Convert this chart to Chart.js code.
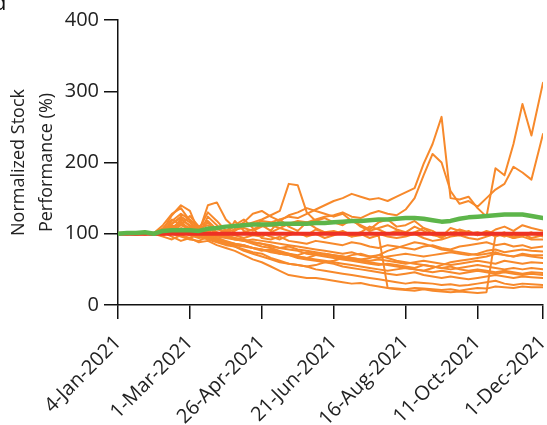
<!DOCTYPE html>
<html>
<head>
<meta charset="utf-8">
<script src="https://cdn.jsdelivr.net/npm/chart.js@4.4.1/dist/chart.umd.min.js"></script>
<style>
  body { margin: 0; background: #fff; }
  #wrap { position: relative; width: 547px; height: 425px; overflow: hidden; }
  #panel { position: absolute; left: -7px; top: -10px; font: 22px "Open Sans", sans-serif; color: #111; line-height: 1; }
</style>
</head>
<body>
<div id="wrap">
  <canvas id="stockChart" width="547" height="425"></canvas>
  <div id="panel">d</div>
</div>
<script>
// days since 4-Jan-2021 for each sample
const sampleDays = [0, 7, 14, 21, 28, 35, 42, 49, 56, 63, 70, 77, 84, 91, 98, 105,
  112, 119, 126, 133, 140, 147, 154, 161, 168, 175, 182, 189, 196, 203, 210, 217,
  224, 231, 238, 245, 252, 259, 266, 273, 280, 287, 294, 301, 308, 315, 322, 331];

const tickDays = [0, 56, 112, 168, 224, 280, 331];
const tickLabels = ['4-Jan-2021', '1-Mar-2021', '26-Apr-2021', '21-Jun-2021', '16-Aug-2021', '11-Oct-2021', '1-Dec-2021'];
const yTicks = [0, 100, 200, 300, 400];

// market index (green)
const indexSeries = [100, 101, 101, 102, 100, 104, 105, 105, 105, 104, 107, 108, 110, 111, 112, 113,
  113, 113, 114, 114, 114, 114, 115, 115, 116, 117, 118, 118, 119, 120, 120, 121,
  122, 122, 121, 119, 117, 118, 121, 123, 124, 125, 126, 127, 127, 127, 125, 122];

// starting level (red)
const baselineDays = [0, 331];
const baselineValues = [100, 100];

// individual stocks (orange)
const s01 = [100, 101, 100, 99, 101, 108, 120, 112, 125, 110, 118, 106, 104, 110, 114, 112,
  118, 116, 120, 124, 122, 128, 134, 140, 146, 150, 156, 152, 148, 150, 146, 152,
  158, 164, 198, 226, 264, 150, 148, 152, 136, 124, 192, 182, 226, 282, 238, 312];
const s02 = [100, 100, 101, 100, 100, 104, 114, 122, 110, 104, 116, 100, 102, 106, 108, 104,
  110, 112, 108, 114, 118, 116, 120, 124, 126, 130, 124, 122, 128, 132, 128, 126,
  134, 150, 182, 212, 200, 160, 142, 146, 138, 150, 162, 170, 194, 186, 176, 240];
const s03 = [100, 100, 99, 100, 101, 112, 128, 136, 118, 96, 102, 92, 98, 104, 112, 116,
  120, 126, 132, 170, 168, 130, 118, 122, 116, 112, 120, 110, 104, 108, 112, 106,
  102, 110, 104, 98, 96, 108, 104, 100, 102, 98, 106, 110, 104, 112, 108, 104];
const s04 = [100, 100, 100, 101, 100, 106, 126, 140, 132, 102, 140, 144, 120, 108, 116, 128,
  132, 124, 118, 126, 130, 136, 132, 128, 124, 128, 118, 112, 106, 116, 120, 110,
  112, 118, 108, 100, 94, 102, 98, 104, 98, 102, 96, 100, 94, 98, 102, 96];
const s05 = [100, 101, 100, 100, 99, 102, 108, 118, 104, 98, 124, 112, 96, 118, 104, 98,
  96, 102, 108, 104, 100, 98, 106, 102, 100, 104, 98, 102, 110, 106, 100, 104,
  98, 102, 108, 104, 96, 100, 106, 102, 98, 104, 100, 96, 102, 98, 100, 98];
const s06 = [100, 100, 101, 100, 100, 102, 110, 104, 108, 98, 104, 96, 100, 98, 94, 98,
  100, 96, 92, 98, 102, 96, 100, 94, 98, 102, 96, 100, 94, 98, 24, 22,
  21, 20, 22, 20, 19, 18, 19, 18, 17, 18, 98, 102, 96, 100, 94, 98];
const s07 = [100, 100, 99, 100, 100, 96, 92, 98, 94, 88, 90, 84, 80, 76, 70, 64,
  60, 54, 48, 42, 40, 38, 38, 36, 34, 32, 30, 31, 28, 26, 24, 23,
  22, 24, 23, 22, 21, 22, 20, 22, 24, 23, 26, 25, 24, 26, 25, 25];
const s08 = [100, 101, 100, 100, 99, 104, 112, 106, 102, 96, 92, 88, 84, 82, 78, 74,
  72, 66, 62, 58, 56, 54, 50, 48, 46, 44, 42, 40, 38, 36, 34, 32,
  30, 32, 31, 30, 28, 29, 27, 28, 30, 32, 34, 30, 28, 30, 29, 28];
const s09 = [100, 100, 100, 101, 100, 98, 104, 112, 106, 100, 98, 94, 90, 86, 84, 80,
  78, 74, 72, 70, 66, 64, 62, 60, 58, 54, 52, 50, 48, 46, 44, 42,
  44, 46, 42, 40, 38, 40, 38, 36, 38, 40, 42, 40, 38, 40, 39, 38];
const s10 = [100, 99, 100, 100, 101, 100, 106, 120, 112, 104, 108, 100, 96, 92, 90, 86,
  82, 80, 76, 72, 68, 66, 64, 62, 60, 58, 56, 54, 52, 50, 48, 50,
  52, 50, 48, 46, 48, 46, 44, 46, 48, 46, 44, 46, 44, 42, 44, 42];
const s11 = [100, 100, 101, 100, 100, 104, 110, 104, 100, 96, 94, 90, 86, 82, 76, 72,
  68, 64, 60, 58, 56, 54, 56, 60, 62, 66, 70, 72, 68, 70, 66, 62,
  60, 58, 56, 54, 52, 54, 50, 48, 50, 48, 46, 48, 46, 44, 46, 45];
const s12 = [100, 100, 100, 99, 100, 102, 118, 128, 120, 108, 112, 102, 98, 94, 92, 88,
  86, 84, 80, 78, 76, 72, 70, 68, 66, 64, 62, 60, 58, 56, 58, 56,
  54, 52, 56, 54, 52, 50, 52, 54, 56, 54, 52, 50, 52, 50, 52, 50];
const s13 = [100, 101, 100, 100, 100, 100, 108, 114, 108, 102, 104, 98, 96, 94, 90, 88,
  86, 82, 80, 82, 78, 76, 74, 72, 70, 68, 66, 64, 62, 64, 62, 60,
  58, 60, 62, 60, 58, 56, 58, 60, 62, 60, 58, 62, 60, 58, 60, 59];
const s14 = [100, 100, 99, 100, 101, 104, 110, 102, 98, 94, 96, 90, 88, 86, 84, 80,
  78, 76, 72, 70, 68, 66, 70, 72, 70, 68, 66, 64, 66, 70, 76, 80,
  84, 88, 86, 82, 78, 76, 74, 72, 70, 72, 74, 70, 68, 70, 68, 66];
const s15 = [100, 100, 100, 100, 100, 98, 102, 108, 104, 100, 102, 96, 94, 92, 90, 92,
  90, 88, 86, 84, 82, 80, 78, 76, 74, 72, 74, 70, 68, 66, 68, 70,
  72, 70, 68, 70, 72, 74, 72, 70, 72, 76, 78, 74, 76, 78, 76, 75];
const s16 = [100, 101, 100, 100, 99, 106, 114, 124, 116, 106, 130, 118, 104, 112, 120, 108,
  94, 92, 96, 90, 88, 86, 90, 88, 86, 84, 88, 86, 82, 80, 84, 82,
  80, 78, 82, 84, 80, 78, 82, 84, 86, 88, 84, 86, 82, 84, 80, 82];
const s17 = [100, 100, 101, 100, 100, 104, 100, 96, 92, 90, 96, 100, 104, 98, 102, 106,
  112, 104, 120, 110, 104, 116, 108, 102, 104, 100, 96, 98, 102, 100, 96, 94,
  96, 100, 94, 90, 92, 96, 98, 94, 92, 96, 100, 98, 94, 96, 92, 92];
const s18 = [100, 100, 100, 101, 100, 102, 96, 90, 94, 100, 96, 92, 88, 84, 82, 80,
  76, 78, 74, 72, 70, 74, 72, 70, 68, 66, 64, 62, 60, 58, 56, 54,
  52, 50, 48, 52, 56, 60, 62, 64, 66, 68, 72, 70, 68, 72, 70, 70];

const stockSeries = [s01, s02, s03, s04, s05, s06, s07, s08, s09, s10, s11, s12, s13, s14, s15, s16, s17, s18];

const fontFamily = '"Open Sans", "Noto Sans", sans-serif';
const toPoints = (vals) => vals.map((v, i) => ({ x: sampleDays[i], y: v }));

const datasets = [
  { label: 'Index', data: toPoints(indexSeries), borderColor: '#5DB54A', borderWidth: 4.5 },
  {
    label: 'Baseline',
    data: baselineDays.map((d, i) => ({ x: d, y: baselineValues[i] })),
    borderColor: '#EE3124',
    borderWidth: 4
  },
  ...stockSeries.map((s, k) => ({
    label: 'Stock ' + (k + 1),
    data: toPoints(s),
    borderColor: '#F7892B',
    borderWidth: 2
  }))
];

new Chart(document.getElementById('stockChart').getContext('2d'), {
  type: 'line',
  data: { datasets },
  options: {
    responsive: false,
    animation: false,
    layout: { padding: { top: 20, right: 4, left: 0, bottom: 0 } },
    plugins: { legend: { display: false }, tooltip: { enabled: false } },
    elements: {
      point: { radius: 0 },
      line: { tension: 0, fill: false, borderJoinStyle: 'round', borderCapStyle: 'round' }
    },
    scales: {
      x: {
        type: 'linear',
        min: 0,
        max: 331,
        afterBuildTicks: (scale) => { scale.ticks = tickDays.map(v => ({ value: v })); },
        afterFit: (scale) => { scale.height = 120; scale.paddingLeft = 0; scale.paddingRight = 0; },
        ticks: {
          autoSkip: false,
          minRotation: 45,
          maxRotation: 45,
          padding: 12,
          color: '#222',
          font: { family: fontFamily, size: 20 },
          callback: (value, index) => tickLabels[index]
        },
        grid: { drawOnChartArea: false, drawTicks: true, tickLength: 14, color: '#111', lineWidth: 1.5 },
        border: { display: true, color: '#111', width: 1.5 }
      },
      y: {
        min: 0,
        max: 400,
        afterBuildTicks: (scale) => { scale.ticks = yTicks.map(v => ({ value: v })); },
        afterFit: (scale) => { scale.width = 118; },
        ticks: {
          padding: 5,
          color: '#222',
          font: { family: fontFamily, size: 20 }
        },
        grid: { drawOnChartArea: false, drawTicks: true, tickLength: 14, color: '#111', lineWidth: 1.5 },
        border: { display: true, color: '#111', width: 1.5 },
        title: {
          display: true,
          text: ['Normalized Stock', 'Performance (%)'],
          color: '#222',
          font: { family: fontFamily, size: 18, lineHeight: '28px' },
          padding: { top: 5, bottom: 0 }
        }
      }
    }
  }
});
</script>
</body>
</html>
